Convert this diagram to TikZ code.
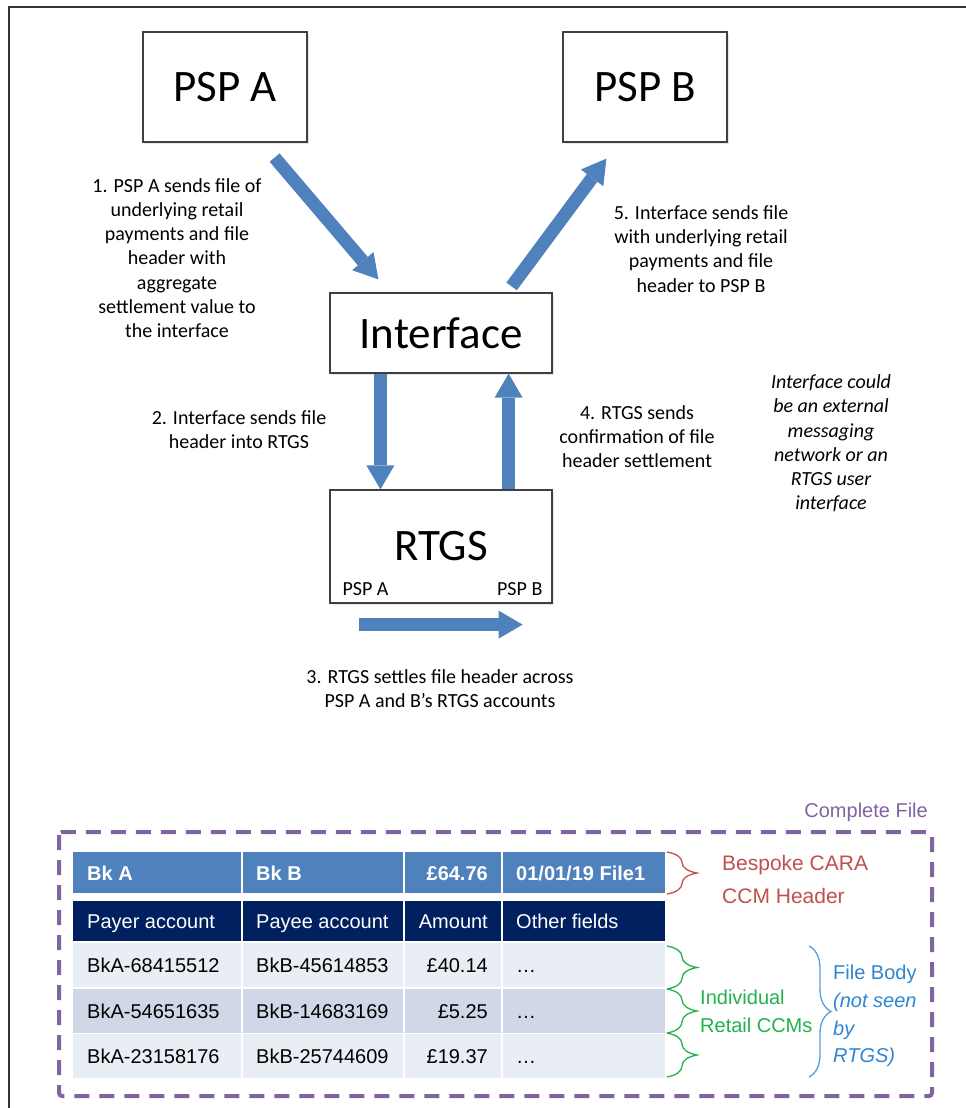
\documentclass[tikz,border=0pt]{standalone}
\usepackage{fontspec}
\setmainfont{Carlito}
\newfontfamily\arialfont{Liberation Sans}
\usetikzlibrary{calc,arrows.meta,shadows,decorations.pathreplacing}

\definecolor{arrowblue}{HTML}{4F81BD}
\definecolor{hdrblue}{HTML}{4F81BD}
\definecolor{navy}{HTML}{002060}
\definecolor{rowlight}{HTML}{E9EDF4}
\definecolor{rowdark}{HTML}{D0D8E8}
\definecolor{cfpurple}{HTML}{8064A2}
\definecolor{cfred}{HTML}{C0504D}
\definecolor{cfgreen}{HTML}{22B14C}
\definecolor{cfblue}{HTML}{2E86D0}

\begin{document}
\begin{tikzpicture}[x=1pt,y=-1pt]
% Styles
\tikzset{
    box/.style={draw=black!75, line width=1.2pt, fill=white,
        drop shadow={shadow xshift=1.5pt, shadow yshift=-2pt, opacity=0.2}},
    big/.style={font=\fontsize{45}{54}\selectfont},
    note/.style={align=center, inner sep=0pt, font=\fontsize{20}{24.2}\selectfont},
    fat/.style={line width=13pt, draw=arrowblue,
        -{Triangle[length=24pt,width=28pt,line width=0pt]}},
    tbl/.style={inner sep=0pt, font=\arialfont\fontsize{20}{24}\selectfont},
    brc/.style={decorate, decoration={brace, amplitude=#1}, line width=1.3pt}
}
\useasboundingbox (0,0) rectangle (966,1108);
% Frame
\draw[black!80, line width=1.8pt] (966,7) -- (9,7) -- (9,1108);
% Boxes
\node[box, big, minimum width=164pt, minimum height=110pt] (pspa) at (225,87) {PSP A};
\node[box, big, minimum width=164pt, minimum height=110pt] (pspb) at (645,87) {PSP B};
\node[box, big, minimum width=222pt, minimum height=80pt] (iface) at (441,333) {Interface};
\node[box, big, minimum width=222pt, minimum height=113pt] (rtgs) at (441,546.5) {RTGS};
\node[note, anchor=base west] (rtgsa) at ($(rtgs.south west)+(13,-8)$) {PSP A};
\node[note, anchor=base east] (rtgsb) at ($(rtgs.south east)+(-10,-8)$) {PSP B};
% Arrows
\coordinate (a1s) at ($(pspa.south east)+(-33,15)$);
\coordinate (a1e) at ($(iface.north west)+(49,-13)$);
\coordinate (a5s) at ($(iface.north east)+(-41,-6)$);
\coordinate (a5e) at ($(pspb.south west)+(44,16)$);
\coordinate (a3s) at ($(rtgs.south west)+(30,21)$);
\coordinate (a3e) at ($(rtgs.south east)+(-30,21)$);
\draw[fat] (a1s) -- (a1e);
\draw[fat] (a5s) -- (a5e);
\draw[fat] ($(iface.south west)+(51,0)$) -- ($(rtgs.north west)+(51,0)$);
\draw[fat] ($(rtgs.north east)+(-44,0)$) -- ($(iface.south east)+(-44,0)$);
\draw[fat] (a3s) -- (a3e);
% Step labels
\node[note] (step1) at (177,258) {1. PSP A sends file of\\underlying retail\\payments and file\\header with\\aggregate\\settlement value to\\the interface};
\node[note] (step2) at (239,430) {2. Interface sends file\\header into RTGS};
\node[note] (step3) at (440,688.5) {3. RTGS settles file header across\\PSP A and B’s RTGS accounts};
\node[note] (step4) at (637,436.5) {4. RTGS sends\\confirmation of file\\header settlement};
\node[note] (step5) at (701,249) {5. Interface sends file\\with underlying retail\\payments and file\\header to PSP B};
\node[note, font=\fontsize{20}{24.2}\selectfont\itshape] (remark) at (831,443.5) {Interface could\\be an external\\messaging\\network or an\\RTGS user\\interface};
% File table
\foreach \ytop/\ybot/\col in {852/893/hdrblue, 901/941/navy, 943/987/rowlight, 988.5/1032.5/rowdark, 1034/1078/rowlight}
    \foreach \xl/\xr in {73/241, 243/403, 405/501, 503/665}
        \fill[\col] (\xl,\ytop) rectangle (\xr,\ybot);
\node[tbl, white, font=\arialfont\bfseries\fontsize{20}{24}\selectfont, anchor=base west] (h1) at (87,880) {Bk A};
\node[tbl, white, font=\arialfont\bfseries\fontsize{20}{24}\selectfont, anchor=base west] (h2) at (256,880) {Bk B};
\node[tbl, white, font=\arialfont\bfseries\fontsize{20}{24}\selectfont, anchor=base east] (h3) at (488,880) {£64.76};
\node[tbl, white, font=\arialfont\bfseries\fontsize{20}{24}\selectfont, anchor=base west] (h4) at (516,880) {01/01/19 File1};
\foreach \yb/\ca/\cb/\cc/\cd/\tc [count=\i] in {
    928/Payer account/Payee account/Amount/Other fields/white,
    972.5/BkA-68415512/BkB-45614853/£40.14/\ldots/black,
    1018/BkA-54651635/BkB-14683169/£5.25/\ldots/black,
    1063/BkA-23158176/BkB-25744609/£19.37/\ldots/black} {
    \node[tbl, \tc, anchor=base west] (r\i a) at (87,\yb) {\ca};
    \node[tbl, \tc, anchor=base west] (r\i b) at (256,\yb) {\cb};
    \node[tbl, \tc, anchor=base east] (r\i c) at (488,\yb) {\cc};
    \node[tbl, \tc, anchor=base west] (r\i d) at (516,\yb) {\cd};
}
% Braces
\draw[brc=30pt, cfred] (667,852) -- (667,894);
\draw[brc=30pt, cfgreen] (667,946) -- (667,989);
\draw[brc=30pt, cfgreen] (667,989) -- (667,1033);
\draw[brc=30pt, cfgreen] (667,1033) -- (667,1077);
\draw[brc=22pt, cfblue!80] (809,946) -- (809,1077);
\node[tbl, cfred, align=left, font=\arialfont\fontsize{21}{33}\selectfont, anchor=west] (hdrnote) at (722,879) {Bespoke CARA\\CCM Header};
\node[tbl, cfgreen, align=left, font=\arialfont\fontsize{20}{28}\selectfont, anchor=west] (ccmnote) at (700,1011.5) {Individual\\Retail CCMs};
\node[tbl, cfblue, align=left, font=\arialfont\fontsize{20}{27.7}\selectfont, anchor=west] (bodynote) at (833,1016) {File Body\\{\itshape (not seen}\\{\itshape by}\\{\itshape RTGS)}};
% Complete file
\node[tbl, cfpurple, anchor=base east] (cfile) at (928,817) {Complete File};
\draw[cfpurple, line width=4pt, dash pattern=on 15pt off 10pt, rounded corners=3pt] (59,832) rectangle (932,1096);
\end{tikzpicture}
\end{document}
